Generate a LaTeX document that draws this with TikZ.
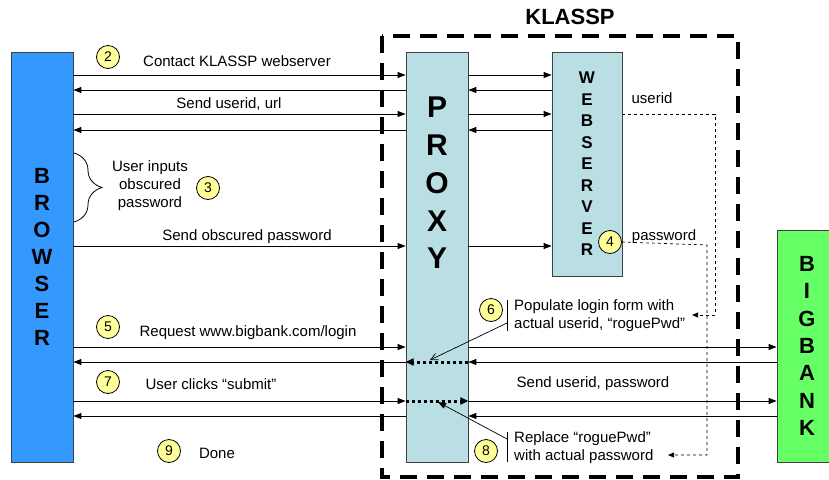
\documentclass[tikz,border=0pt]{standalone}
\usepackage{fontspec}
\setmainfont{Liberation Sans}
\usetikzlibrary{arrows.meta}
\usetikzlibrary{decorations.pathreplacing}
\definecolor{browserblue}{HTML}{3399FF}
\definecolor{proxycyan}{HTML}{B9DEE3}
\definecolor{bankgreen}{HTML}{66FF66}
\definecolor{stepyellow}{HTML}{FFFF99}

\begin{document}
\begin{tikzpicture}[x=1pt, y=-1pt,
    msg/.style={-{Triangle[length=8pt,width=6pt]}, line width=0.9pt},
    swap/.style={-{Triangle[length=8pt,width=7pt]}, line width=3pt, dash pattern=on 3pt off 3pt},
    tier/.style={draw=black!75, line width=0.8pt, inner sep=0pt},
    stepnum/.style={circle, draw, line width=0.8pt, fill=stepyellow, minimum size=23pt, inner sep=0pt, font=\fontsize{14}{14}\selectfont},
    lbl/.style={font=\fontsize{15}{18}\selectfont, inner sep=0pt},
    tiertext/.style={font=\bfseries\fontsize{#1}{#1}\selectfont, align=center, inner sep=0pt}
]
    \useasboundingbox (0,0) rectangle (829,479);

    % Rows of the messages
    \coordinate (r1) at (0,75);
    \coordinate (r2) at (0,90);
    \coordinate (r3) at (0,114);
    \coordinate (r4) at (0,130);
    \coordinate (r5) at (0,246);
    \coordinate (r6) at (0,347);
    \coordinate (r7) at (0,362);
    \coordinate (r8) at (0,401);
    \coordinate (r9) at (0,416);

    % KLASSP boundary
    \draw[line width=3.5pt, dash pattern=on 17pt off 10pt] (382,36) rectangle (738,477);
    \node[font=\bfseries\fontsize{22}{22}\selectfont, inner sep=0pt] (klassp) at (570,17) {KLASSP};

    % Tiers
    \node[tier, fill=browserblue, minimum width=62pt, minimum height=410pt] (browser) at (42,257) {};
    \node[tiertext=22, font=\bfseries\fontsize{22}{27}\selectfont] (browserlbl) at (browser) {B\\R\\O\\W\\S\\E\\R};
    \node[tier, fill=proxycyan, minimum width=62pt, minimum height=410pt] (proxy) at (437,257) {};
    \node[tiertext=30, font=\bfseries\fontsize{30}{37.8}\selectfont] (proxylbl) at (437,183) {P\\R\\O\\X\\Y};
    \node[tier, fill=proxycyan, minimum width=70pt, minimum height=224pt] (web) at (587,164) {};
    \node[tiertext=17, font=\bfseries\fontsize{17}{21.5}\selectfont] (weblbl) at (web) {W\\E\\B\\S\\E\\R\\V\\E\\R};
    \node[tier, fill=bankgreen, minimum width=60pt, minimum height=232pt] (bank) at (807,346) {};
    \node[tiertext=22, font=\bfseries\fontsize{22}{27.3}\selectfont] (banklbl) at (bank) {B\\I\\G\\B\\A\\N\\K};

    % Step 2: contact webserver
    \node[stepnum] (s2) at (108,57) {2};
    \node[lbl] (contact) at (237,61) {Contact KLASSP webserver};
    \draw[msg] (browser.east |- r1) -- (proxy.west |- r1);
    \draw[msg] (proxy.west |- r2) -- (browser.east |- r2);
    \draw[msg] (proxy.east |- r1) -- (web.west |- r1);
    \draw[msg] (web.west |- r2) -- (proxy.east |- r2);
    \node[lbl] (sendurl) at (229,104) {Send userid, url};
    \draw[msg] (browser.east |- r3) -- (proxy.west |- r3);
    \draw[msg] (proxy.west |- r4) -- (browser.east |- r4);
    \draw[msg] (proxy.east |- r3) -- (web.west |- r3);
    \draw[msg] (web.west |- r4) -- (proxy.east |- r4);

    % Step 3: obscured password
    \draw[line width=0.8pt, decorate, decoration={brace, amplitude=28pt, aspect=0.5}] (74,153) -- (74,222);
    \node[lbl, align=center] (inputs) at (150,186) {User inputs\\obscured\\password};
    \node[stepnum] (s3) at (208,188) {3};
    \node[lbl] (sendpwd) at (247,237) {Send obscured password};
    \draw[msg] (browser.east |- r5) -- (proxy.west |- r5);
    \draw[msg] (proxy.east |- r5) -- (web.west |- r5);

    % Step 4: webserver keeps userid and password
    \node[lbl] (userid) at (652,98) {userid};
    \node[stepnum] (s4) at (610,242) {4};
    \node[lbl] (password) at (664,237) {password};
    \coordinate (uidbend) at (715,114);
    \coordinate (uiddrop) at (715,315);
    \coordinate (uidend) at (692,315);
    \draw[dashed, line width=0.7pt, -{Triangle[length=6pt,width=5pt]}] (web.east |- r3) -- (uidbend) -- (uiddrop) -- (uidend);
    \coordinate (pwdbend) at (707,245);
    \coordinate (pwddrop) at (707,455);
    \coordinate (pwdend) at (668,455);
    \draw[dashed, line width=0.7pt, -{Triangle[length=6pt,width=5pt]}] (s4.east) -- (pwdbend) -- (pwddrop) -- (pwdend);

    % Step 5: login page
    \node[stepnum] (s5) at (108,327) {5};
    \node[lbl] (request) at (248,333) {Request www.bigbank.com/login};
    \draw[msg] (browser.east |- r6) -- (proxy.west |- r6);
    \draw[msg] (proxy.east |- r6) -- (bank.west |- r6);
    \draw[msg] (bank.west |- r7) -- (proxy.east |- r7);
    \draw[msg] (proxy.west |- r7) -- (browser.east |- r7);
    \draw[swap] (proxy.east |- r7) -- (proxy.west |- r7);

    % Step 6: form filled in
    \node[stepnum] (s6) at (491,310) {6};
    \coordinate (bar6top) at (507,300);
    \coordinate (bar6bot) at (507,331);
    \draw[line width=0.8pt] (bar6top) -- (bar6bot);
    \node[lbl, anchor=west, align=left] (populate) at (514,316) {Populate login form with\\actual userid, “roguePwd”};
    \coordinate (ptr6) at (507,323);
    \coordinate (tip6) at (430,360);
    \draw[line width=0.7pt, -{Straight Barb[length=7pt,width=7pt]}] (ptr6) -- (tip6);

    % Step 7: submit
    \node[stepnum] (s7) at (108,382) {7};
    \node[lbl] (clicks) at (211,384) {User clicks “submit”};
    \node[lbl] (senduidpwd) at (593,384) {Send userid, password};
    \draw[msg] (browser.east |- r8) -- (proxy.west |- r8);
    \draw[swap] (proxy.west |- r8) -- (proxy.east |- r8);
    \draw[msg] (proxy.east |- r8) -- (bank.west |- r8);
    \draw[msg] (bank.west |- r9) -- (proxy.east |- r9);
    \draw[msg] (proxy.west |- r9) -- (browser.east |- r9);

    % Step 8: password swapped
    \node[stepnum] (s8) at (486,451) {8};
    \coordinate (bar8top) at (507,432);
    \coordinate (bar8bot) at (507,462);
    \draw[line width=0.8pt] (bar8top) -- (bar8bot);
    \node[lbl, anchor=west, align=left] (replace) at (514,448) {Replace “roguePwd”\\with actual password};
    \coordinate (ptr8) at (507,439);
    \coordinate (tip8) at (438,402);
    \draw[line width=0.7pt, -{Triangle[length=8pt,width=6pt]}] (ptr8) -- (tip8);

    % Step 9
    \node[stepnum] (s9) at (169,451) {9};
    \node[lbl] (done) at (217,453) {Done};

\end{tikzpicture}
\end{document}
